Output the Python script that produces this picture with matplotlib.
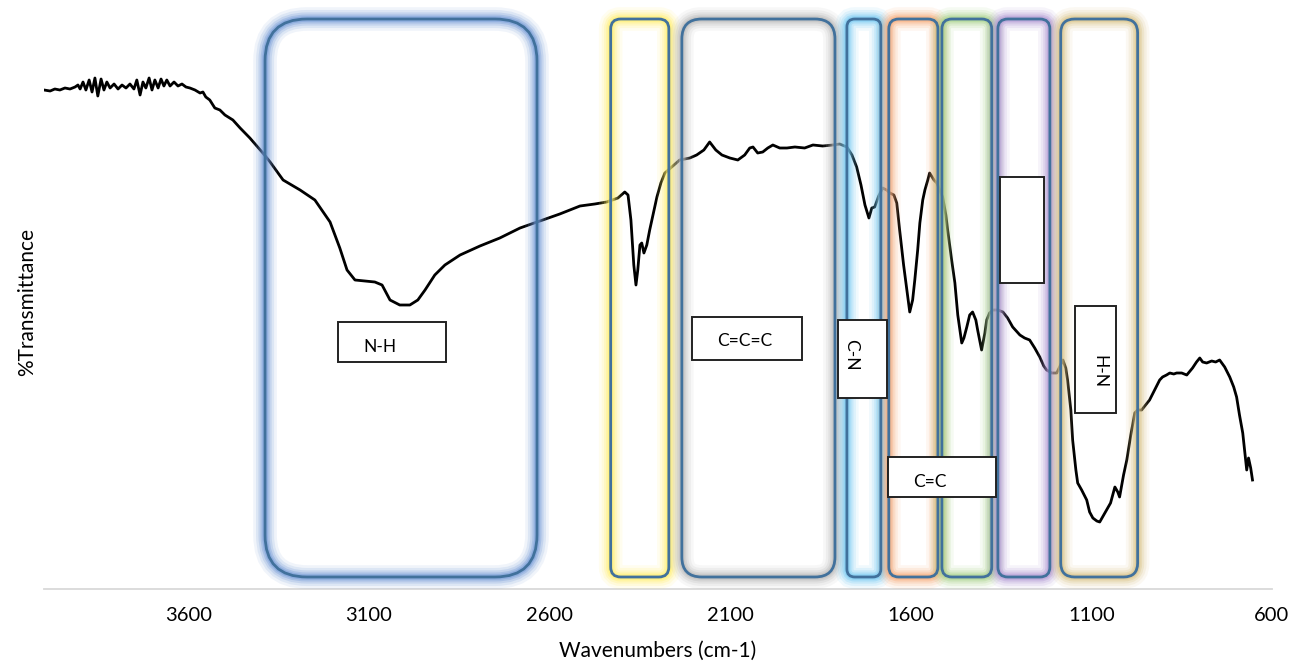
import matplotlib
matplotlib.use("Agg")
import matplotlib.pyplot as plt
from matplotlib.patches import FancyBboxPatch, Rectangle
import numpy as np

plt.rcParams['font.family'] = ['Lato', 'DejaVu Sans']

# FTIR spectrum (wavenumber in cm-1, %T)
wavenumber = [4000, 3983, 3970, 3956, 3942, 3928, 3914, 3906, 3900, 3892, 3884, 3875, 3867, 3859,
              3851, 3842, 3834, 3826, 3817, 3806, 3795, 3784, 3773, 3762, 3751, 3743, 3734, 3726,
              3718, 3709, 3701, 3693, 3684, 3676, 3668, 3660, 3651, 3640, 3629, 3618, 3607, 3596,
              3582, 3568, 3560, 3552, 3541, 3527, 3513, 3499, 3477, 3457, 3430, 3394, 3374, 3338,
              3291, 3250, 3208, 3181, 3161, 3139, 3111, 3084, 3064, 3042, 3015, 2987, 2965, 2945,
              2918, 2890, 2848, 2793, 2738, 2682, 2627, 2572, 2516, 2475, 2442, 2411, 2392, 2383,
              2375, 2367, 2361, 2356, 2350, 2345, 2339, 2331, 2323, 2311, 2303, 2292, 2281, 2262,
              2240, 2212, 2193, 2173, 2157, 2140, 2123, 2101, 2079, 2060, 2046, 2037, 2024, 2010,
              1996, 1982, 1963, 1943, 1921, 1894, 1871, 1844, 1816, 1797, 1777, 1763, 1750, 1738,
              1727, 1716, 1708, 1700, 1689, 1678, 1667, 1658, 1647, 1639, 1631, 1620, 1611, 1603,
              1595, 1589, 1581, 1575, 1567, 1561, 1553, 1548, 1536, 1528, 1520, 1512, 1503, 1498,
              1487, 1478, 1470, 1459, 1453, 1445, 1437, 1429, 1420, 1415, 1404, 1395, 1390, 1382,
              1373, 1359, 1345, 1332, 1318, 1298, 1285, 1271, 1257, 1243, 1232, 1224, 1210, 1196,
              1188, 1179, 1171, 1166, 1157, 1152, 1143, 1138, 1127, 1113, 1105, 1096, 1085, 1077,
              1066, 1058, 1047, 1035, 1027, 1022, 1011, 1002, 991, 980, 972, 961, 950, 939,
              922, 911, 903, 892, 883, 872, 864, 850, 836, 820, 809, 800, 792, 781,
              767, 756, 745, 731, 717, 706, 698, 690, 681, 676, 670, 665, 659, 654]
transmittance = [50.3, 50.2, 50.4, 50.3, 50.5, 50.4, 50.6, 50.8, 50.4, 51.1, 50.3, 51.3, 50.1, 51.5,
                 49.7, 51.4, 50.3, 51.1, 50.5, 50.9, 50.4, 50.8, 50.5, 50.9, 50.4, 51.3, 49.8, 51.1,
                 50.5, 51.5, 50.3, 51.3, 50.5, 51.4, 50.7, 51.3, 50.7, 51.1, 50.7, 50.9, 50.6, 50.5,
                 50.3, 50.0, 50.1, 49.6, 49.3, 48.5, 48.3, 47.8, 47.3, 46.5, 45.5, 44.0, 43.1, 41.3,
                 40.3, 39.3, 37.1, 34.5, 32.3, 31.3, 31.2, 31.1, 30.8, 29.3, 28.8, 28.8, 29.3, 30.3,
                 31.8, 32.8, 33.8, 34.7, 35.5, 36.5, 37.2, 37.9, 38.7, 38.9, 39.1, 39.5, 40.1, 39.8,
                 37.3, 32.8, 30.8, 32.3, 34.8, 35.0, 34.0, 34.8, 36.3, 38.3, 39.6, 41.0, 42.0, 42.6,
                 43.3, 43.5, 43.8, 44.3, 45.1, 44.3, 43.8, 43.5, 43.3, 43.8, 44.5, 44.6, 44.0, 44.1,
                 44.5, 44.8, 44.5, 44.5, 44.6, 44.5, 44.8, 44.7, 44.8, 44.9, 44.6, 43.8, 42.6, 40.8,
                 38.8, 37.5, 38.5, 38.6, 39.7, 40.5, 40.3, 40.0, 39.8, 39.0, 36.3, 32.8, 30.3, 28.1,
                 29.3, 31.3, 34.3, 37.0, 39.3, 40.3, 41.3, 42.0, 41.3, 41.0, 40.3, 39.6, 37.8, 36.3,
                 33.3, 31.0, 27.8, 25.0, 25.5, 26.6, 27.8, 28.1, 27.3, 26.3, 24.3, 26.0, 27.3, 28.0,
                 28.3, 28.3, 28.1, 27.5, 26.6, 25.8, 25.5, 25.3, 24.5, 23.6, 22.7, 22.3, 22.0, 22.0,
                 22.6, 23.3, 22.5, 21.3, 18.3, 15.3, 12.3, 11.0, 10.3, 9.3, 8.1, 7.5, 7.2, 7.1,
                 7.8, 8.3, 9.0, 10.6, 10.1, 9.6, 11.8, 13.3, 15.8, 18.0, 18.3, 18.3, 18.8, 19.3,
                 20.5, 21.3, 21.6, 21.8, 22.0, 21.9, 22.0, 22.0, 21.8, 22.5, 23.1, 23.5, 23.1, 23.0,
                 23.2, 23.1, 23.3, 22.6, 21.6, 20.6, 19.6, 17.8, 16.0, 14.3, 12.3, 13.5, 12.5, 11.3]

# highlighted regions: (high cm-1, low cm-1, corner radius px, glow colour)
regions = [
    (3388, 2635, 42, '#6F96D6'),
    (2431, 2270, 10, '#FFEE66'),
    (2234, 1810, 20, '#B8B8B8'),
    (1777, 1683, 8, '#72C8F2'),
    (1661, 1525, 10, '#F7A875'),
    (1514, 1376, 10, '#A5D186'),
    (1359, 1215, 10, '#AE94D2'),
    (1185, 972, 14, '#D9C283'),
]
region_top, region_bottom = 57.4, 1.6

# label boxes: (high cm-1, low cm-1, top %T, bottom %T, text, text x, text y, rotation)
labels = [
    (3186, 2887, 27.1, 23.1, 'N-H', 3070, 24.6, 0),
    (2206, 1902, 27.6, 23.3, 'C=C=C', 2060, 25.2, 0),
    (1802, 1667, 27.3, 19.5, 'C-N', 1766, 23.8, 270),
    (1664, 1365, 13.6, 9.6, 'C=C', 1548, 11.1, 0),
    (1354, 1232, 41.6, 31.0, '', 0, 0, 0),
    (1146, 1033, 28.7, 18.0, 'H-N', 1077, 22.1, 270),
]

xticks = [3600, 3100, 2600, 2100, 1600, 1100, 600]

fig = plt.figure(figsize=(12.91, 6.71), dpi=100)
ax = fig.add_axes([44 / 1291, (671 - 589) / 671, (1272 - 44) / 1291, (589 - 15) / 671])

ax.plot(wavenumber, transmittance, color='black', lw=2.0, zorder=2)
ax.set_xlim(4000, 600)
ax.set_ylim(0.4, 57.8)
ax.set_xticks(xticks)
ax.set_xticklabels([str(t) for t in xticks], fontsize=14.5)
ax.tick_params(axis='x', length=0, pad=13)
ax.set_yticks([])
for s in ['top', 'right', 'left']:
    ax.spines[s].set_visible(False)
ax.spines['bottom'].set_color('#D9D9D9')
ax.spines['bottom'].set_linewidth(1.3)
ax.set_xlabel('Wavenumbers (cm-1)', fontsize=15, labelpad=12)
ax.set_ylabel('%Transmittance', fontsize=15, labelpad=5)

fig.canvas.draw()


def to_px(wn, t):
    return ax.transData.transform((wn, t))


# rounded region boxes with soft glow, drawn in pixel space
for hi, lo, r, glow in regions:
    x0, y0 = to_px(hi, region_bottom)
    x1, y1 = to_px(lo, region_top)
    w, h = x1 - x0, y1 - y0
    for lw, a in [(17, 0.10), (13, 0.15), (9.5, 0.22), (6.5, 0.32), (4, 0.45)]:
        p = FancyBboxPatch((x0, y0), w, h, boxstyle=f'round,pad=0,rounding_size={r}',
                           fill=False, edgecolor=glow, lw=lw, alpha=a,
                           transform=None, clip_on=False, zorder=3)
        ax.add_patch(p)
    p = FancyBboxPatch((x0, y0), w, h, boxstyle=f'round,pad=0,rounding_size={r}',
                       fill=False, edgecolor='#41719C', lw=2.0, transform=None,
                       clip_on=False, zorder=4)
    ax.add_patch(p)

for hi, lo, top, bot, txt, tx, ty, rot in labels:
    ax.add_patch(Rectangle((hi, bot), lo - hi, top - bot, facecolor='white',
                           edgecolor='#222222', lw=1.4, zorder=6))
    if txt:
        ax.text(tx, ty, txt, fontsize=12.5, rotation=rot, ha='center', va='center', zorder=7)

fig.savefig('out.png', dpi=100)
